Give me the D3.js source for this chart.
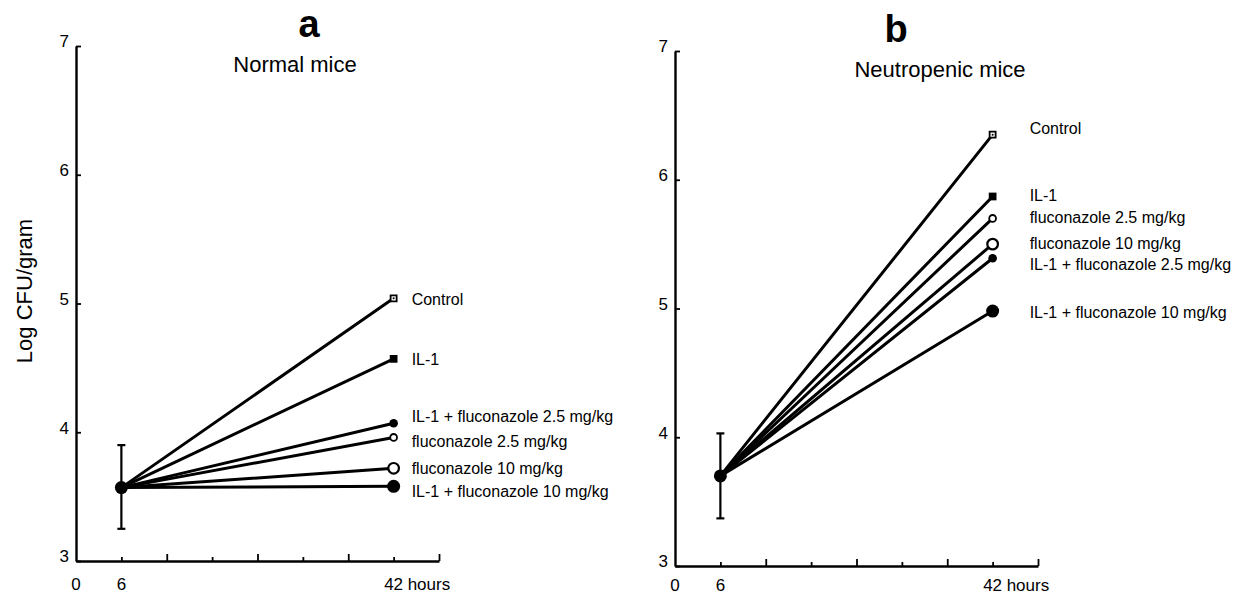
<!DOCTYPE html>
<html>
<head>
<meta charset="utf-8">
<title>Log CFU/gram, normal and neutropenic mice</title>
<style>
	body { margin: 0; background: #fff; }
	svg { display: block; font-family: "Liberation Sans", Arial, sans-serif; }
	.axis path, .axis line { fill: none; stroke: #000; }
	.series-label { font-size: 16px; }
</style>
</head>
<body>
<div id="chart"></div>
<script src="https://d3js.org/d3.v7.min.js"></script>
<script>
// series names, in the order used by the value arrays below
var treatments = ["Control", "IL-1", "IL-1 + fluconazole 2.5 mg/kg", "fluconazole 2.5 mg/kg",
	"fluconazole 10 mg/kg", "IL-1 + fluconazole 10 mg/kg"];
var markers = ["squareDot", "squareFilled", "dotFilled", "dotOpen", "circleOpen", "circleFilled"];
var timePoints = [6, 42];

// panel a: normal mice
var normalStart = 3.57;
var normalStartRange = [3.25, 3.90];
var normalEnd = [5.04, 4.57, 4.07, 3.96, 3.72, 3.58];

// panel b: neutropenic mice
var neutroStart = 3.70;
var neutroStartRange = [3.37, 4.03];
var neutroEnd = [6.35, 5.87, 5.39, 5.70, 5.50, 4.98];

var yTicks = [3, 4, 5, 6, 7];
var xTicks = [6, 12, 18, 24, 30, 36, 42, 48];
var xLabels = [0, 6, 42];

var width = 1244, height = 594;
var plotW = 363, plotH = 515;

var svg = d3.select("#chart").append("svg")
	.attr("width", width)
	.attr("height", height);

var panels = [
	{ letter: "a", title: "Normal mice", left: 76, top: 46, start: normalStart, range: normalStartRange,
	  end: normalEnd, labelGap: 18, nudge: [1, 1, -7, 4, 0, 5], letterX: 233, titleX: 219,
	  xLabelY: 29, yTitle: true },
	{ letter: "b", title: "Neutropenic mice", left: 675, top: 51, start: neutroStart, range: neutroStartRange,
	  end: neutroEnd, labelGap: 37, nudge: [-6, -1, 6, -1, -1, 1], letterX: 221, titleX: 265,
	  xLabelY: 25, yTitle: false }
];

panels.forEach(function(p) {
	var g = svg.append("g").attr("transform", "translate(" + p.left + "," + p.top + ")");

	var x = d3.scaleLinear().domain([0, 48]).range([0, plotW]);
	var y = d3.scaleLinear().domain([3, 7]).range([plotH, 0]);

	// y axis, ticks pointing inward
	var yAxis = g.append("g").attr("class", "axis")
		.call(d3.axisLeft(y).tickValues(yTicks).tickFormat(d3.format("d"))
			.tickSize(-5).tickSizeOuter(0).tickPadding(7));
	yAxis.attr("font-size", 17).attr("font-family", "Liberation Sans, Arial, sans-serif");
	yAxis.select(".domain").attr("stroke-width", 2.4);
	yAxis.selectAll(".tick line").attr("stroke-width", 1.8);
	yAxis.selectAll("text").attr("dy", "0.05em");

	// x axis, ticks pointing upward, longer every 12 hours
	var xAxis = g.append("g").attr("class", "axis")
		.attr("transform", "translate(0," + plotH + ")")
		.call(d3.axisBottom(x).tickValues(xTicks).tickSize(-7).tickSizeOuter(0).tickFormat(""));
	xAxis.select(".domain").attr("stroke-width", 2.4);
	xAxis.selectAll(".tick line")
		.attr("stroke-width", 1.8)
		.attr("y2", function(d) { return d % 12 === 0 ? -7 : -4; });

	g.selectAll(".xlab").data(xLabels).enter().append("text")
		.attr("class", "xlab")
		.attr("x", function(d) { return x(d); })
		.attr("y", plotH + p.xLabelY)
		.attr("text-anchor", "middle")
		.attr("font-size", 17)
		.text(function(d) { return d; });
	g.append("text")
		.attr("x", x(42) + 14)
		.attr("y", plotH + p.xLabelY)
		.attr("font-size", 17)
		.text("hours");

	// titles
	g.append("text")
		.attr("x", p.letterX).attr("y", -9)
		.attr("text-anchor", "middle")
		.attr("font-size", 38).attr("font-weight", "bold")
		.text(p.letter);
	g.append("text")
		.attr("x", p.titleX).attr("y", 26)
		.attr("text-anchor", "middle")
		.attr("font-size", 22)
		.text(p.title);

	if (p.yTitle) {
		g.append("text")
			.attr("transform", "translate(" + (-44) + "," + (245) + ")rotate(-90)")
			.attr("text-anchor", "middle")
			.attr("font-size", 22)
			.text("Log CFU/gram");
	}

	// lines from the 6 h point to each 42 h value
	g.selectAll(".trend").data(p.end).enter().append("line")
		.attr("class", "trend")
		.attr("x1", x(timePoints[0])).attr("y1", y(p.start))
		.attr("x2", x(timePoints[1])).attr("y2", function(d) { return y(d); })
		.attr("stroke", "#000").attr("stroke-width", 3).attr("stroke-linecap", "round");

	// error bar on the starting point
	var ex = x(timePoints[0]);
	g.append("line").attr("x1", ex).attr("x2", ex)
		.attr("y1", y(p.range[0])).attr("y2", y(p.range[1]))
		.attr("stroke", "#000").attr("stroke-width", 2.2);
	p.range.forEach(function(v) {
		g.append("line").attr("x1", ex - 4).attr("x2", ex + 4)
			.attr("y1", y(v)).attr("y2", y(v))
			.attr("stroke", "#000").attr("stroke-width", 2.2);
	});
	g.append("circle").attr("cx", ex).attr("cy", y(p.start)).attr("r", 6.5).attr("fill", "#000");

	// end markers
	p.end.forEach(function(v, i) {
		var cx = x(timePoints[1]), cy = y(v), m = markers[i];
		if (m === "squareDot") {
			g.append("path").attr("transform", "translate(" + cx + "," + cy + ")")
				.attr("d", d3.symbol(d3.symbolSquare, 36)())
				.attr("fill", "#fff").attr("stroke", "#000").attr("stroke-width", 1.8);
			g.append("circle").attr("cx", cx).attr("cy", cy).attr("r", 1).attr("fill", "#000");
		} else if (m === "squareFilled") {
			g.append("path").attr("transform", "translate(" + cx + "," + cy + ")")
				.attr("d", d3.symbol(d3.symbolSquare, 60)())
				.attr("fill", "#000");
		} else if (m === "dotFilled") {
			g.append("circle").attr("cx", cx).attr("cy", cy).attr("r", 4.3).attr("fill", "#000");
		} else if (m === "dotOpen") {
			g.append("circle").attr("cx", cx).attr("cy", cy).attr("r", 3.4)
				.attr("fill", "#fff").attr("stroke", "#000").attr("stroke-width", 1.8);
		} else if (m === "circleOpen") {
			g.append("circle").attr("cx", cx).attr("cy", cy).attr("r", 5.3)
				.attr("fill", "#fff").attr("stroke", "#000").attr("stroke-width", 2.2);
		} else {
			g.append("circle").attr("cx", cx).attr("cy", cy).attr("r", 6.5).attr("fill", "#000");
		}
	});

	// series names beside the markers
	g.selectAll(".series-label").data(p.end).enter().append("text")
		.attr("class", "series-label")
		.attr("x", x(timePoints[1]) + p.labelGap)
		.attr("y", function(d, i) { return y(d) + p.nudge[i]; })
		.attr("dy", "0.35em")
		.text(function(d, i) { return treatments[i]; });
});
</script>
</body>
</html>
